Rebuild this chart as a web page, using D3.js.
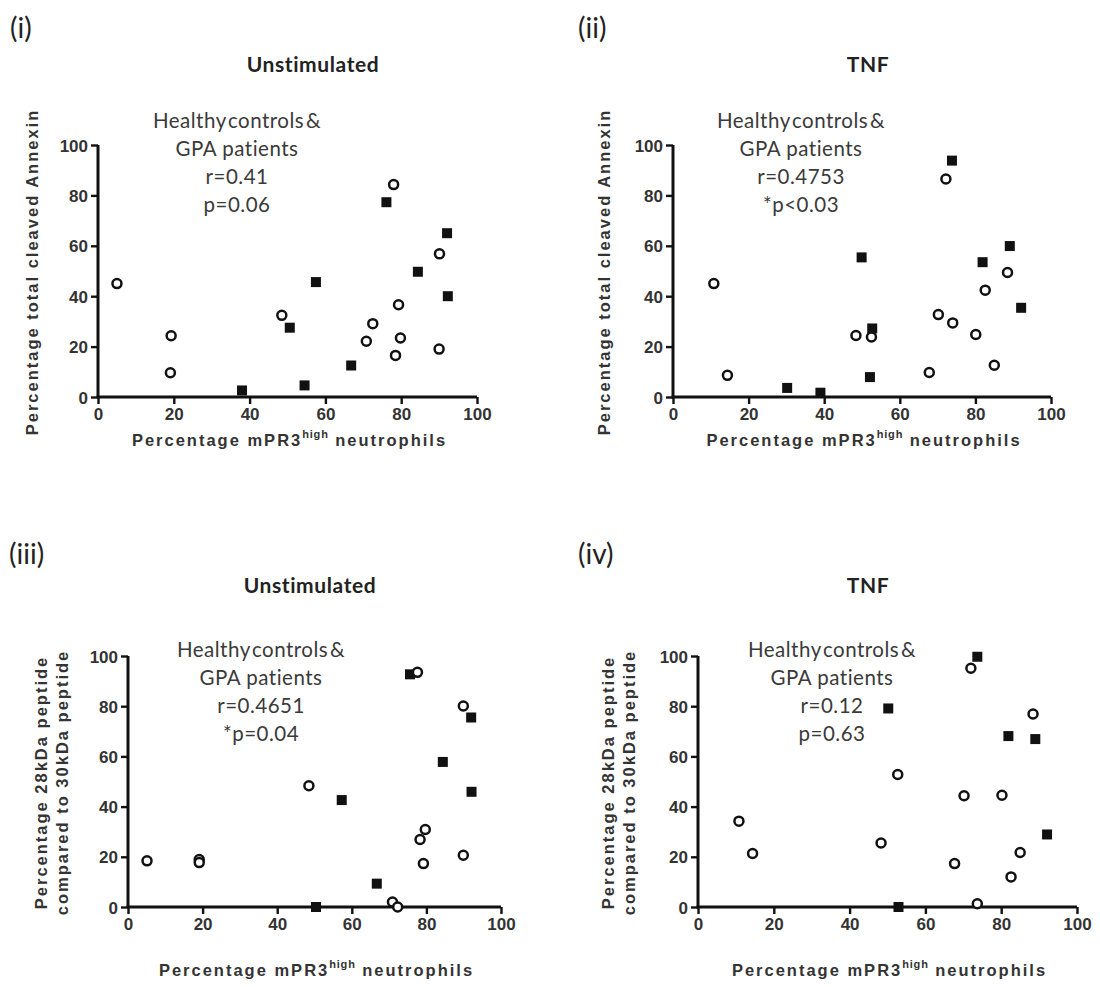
<!DOCTYPE html>
<html>
<head>
<meta charset="utf-8">
<script src="https://cdn.jsdelivr.net/npm/d3@7/dist/d3.min.js"></script>
<style>
  html, body { margin: 0; padding: 0; background: #fff; }
  svg { display: block; }
</style>
</head>
<body>
<script>
// ---- data -------------------------------------------------------------
const xTicks = [0, 20, 40, 60, 80, 100];
const yTicks = [0, 20, 40, 60, 80, 100];

const panelLabels = ["(i)", "(ii)", "(iii)", "(iv)"];
const conditionTitles = ["Unstimulated", "TNF", "Unstimulated", "TNF"];
const xAxisTitle = "Percentage mPR3";
const xAxisSup = "high";
const xAxisTail = " neutrophils";
const yAxisTitles = [
  ["Percentage total cleaved Annexin"],
  ["Percentage total cleaved Annexin"],
  ["Percentage 28kDa peptide", "compared to 30kDa peptide"],
  ["Percentage 28kDa peptide", "compared to 30kDa peptide"]
];
const statLines = [
  ["Healthy controls &", "GPA patients", "r=0.41", "p=0.06"],
  ["Healthy controls &", "GPA patients", "r=0.4753", "*p<0.03"],
  ["Healthy controls &", "GPA patients", "r=0.4651", "*p=0.04"],
  ["Healthy controls &", "GPA patients", "r=0.12", "p=0.63"]
];

// open circles, [mPR3high %, response %]
const openPoints = [
  [[5, 45], [19.3, 24.3], [19.1, 9.6], [48.5, 32.4], [78, 84.3], [90.1, 56.8],
   [79.3, 36.6], [72.5, 29.1], [70.8, 22.1], [79.8, 23.4], [78.5, 16.5], [90, 19]],
  [[10.8, 45], [14.4, 8.6], [48.4, 24.4], [52.5, 23.8], [72.2, 86.5], [70.2, 32.7],
   [74, 29.4], [67.8, 9.7], [80.1, 24.8], [82.6, 42.4], [88.5, 49.4], [85, 12.6]],
  [[5.1, 18.4], [19.1, 18.9], [19.1, 17.7], [48.5, 48.3], [77.6, 93.5], [89.9, 80.1],
   [89.9, 20.6], [78.3, 26.9], [79.7, 30.9], [79.2, 17.3], [70.9, 2], [72.3, 0]],
  [[10.8, 34.2], [14.4, 21.3], [48.3, 25.5], [52.7, 52.8], [72, 95.1], [70.2, 44.3],
   [67.7, 17.3], [73.7, 1.3], [80.2, 44.5], [82.6, 12], [85, 21.7], [88.4, 76.9]]
];

// filled squares, [mPR3high %, response %]
const filledPoints = [
  [[38, 2.6], [50.6, 27.5], [54.5, 4.6], [57.5, 45.6], [66.8, 12.5], [76.1, 77.3],
   [84.4, 49.7], [92.1, 65], [92.3, 40]],
  [[30.2, 3.6], [39, 1.7], [49.9, 55.4], [52.7, 27.2], [52.1, 7.9], [73.8, 93.8],
   [81.9, 53.5], [89.1, 59.9], [92.1, 35.4]],
  [[50.4, 0], [57.3, 42.6], [66.7, 9.3], [75.6, 92.7], [84.4, 57.8], [92, 75.5],
   [92.1, 45.9]],
  [[50.2, 79.1], [52.9, 0], [73.7, 99.7], [81.9, 68.1], [89, 66.9], [92.1, 28.9]]
];

// ---- layout -------------------------------------------------------------
const W = 1100, H = 987;
const frames = [
  { left: 98,  right: 477,  top: 145, bottom: 397, labelX: 10,  labelY: 38,  titleX: 313, titleY: 72,
    statX: 237, statY: 128, yTitleX: [38], xTitleY: 446 },
  { left: 673, right: 1051, top: 145, bottom: 397, labelX: 578, labelY: 38,  titleX: 868, titleY: 72,
    statX: 801, statY: 128, yTitleX: [610], xTitleY: 446 },
  { left: 128, right: 501,  top: 656, bottom: 907, labelX: 9,   labelY: 564, titleX: 310, titleY: 593,
    statX: 261, statY: 657, yTitleX: [47, 68], xTitleY: 976 },
  { left: 698, right: 1077, top: 656, bottom: 907, labelX: 578, labelY: 564, titleX: 868, titleY: 593,
    statX: 832, statY: 657, yTitleX: [614, 635], xTitleY: 976 }
];

const svg = d3.select("body").append("svg")
  .attr("width", W).attr("height", H)
  .attr("viewBox", `0 0 ${W} ${H}`);

svg.append("rect").attr("width", W).attr("height", H).attr("fill", "#fff");

const ink = "#111";
const textGrey = "#333";
const axisFont = "Arial, 'Liberation Sans', sans-serif";
const proseFont = "Lato, 'Open Sans', sans-serif";

frames.forEach((f, i) => {
  const g = svg.append("g");
  const x = d3.scaleLinear().domain([0, 100]).range([f.left, f.right]);
  const y = d3.scaleLinear().domain([0, 100]).range([f.bottom, f.top]);

  // panel label and condition title
  g.append("text")
    .attr("x", f.labelX).attr("y", f.labelY)
    .attr("font-family", proseFont).attr("font-size", 28)
    .attr("fill", "#222")
    .text(panelLabels[i]);

  g.append("text")
    .attr("x", f.titleX).attr("y", f.titleY)
    .attr("text-anchor", "middle")
    .attr("font-family", proseFont).attr("font-weight", 700).attr("font-size", 21)
    .attr("letter-spacing", 0.6)
    .attr("fill", "#222")
    .text(conditionTitles[i]);

  // axes
  const xAxis = d3.axisBottom(x).tickValues(xTicks).tickSize(7).tickSizeOuter(0).tickPadding(4);
  const yAxis = d3.axisLeft(y).tickValues(yTicks).tickSize(7).tickSizeOuter(0).tickPadding(3);

  const gx = g.append("g").attr("transform", `translate(0,${f.bottom})`).call(xAxis);
  const gy = g.append("g").attr("transform", `translate(${f.left},0)`).call(yAxis);

  [gx, gy].forEach(a => {
    a.select(".domain").attr("stroke", ink).attr("stroke-width", 3);
    a.selectAll(".tick line").attr("stroke", ink).attr("stroke-width", 2.4);
    a.selectAll(".tick text")
      .attr("font-family", axisFont).attr("font-weight", 700).attr("font-size", 17)
      .attr("fill", textGrey);
  });
  // extend the x-axis line across the y-axis stroke
  gx.select(".domain").attr("d", `M${f.left - 1.5},0H${f.right}`);
  gy.select(".domain").attr("d", `M0,${f.bottom}V${f.top}`);
  gy.selectAll(".tick text").attr("dy", "0.36em");

  // x-axis title with superscript
  const xt = g.append("text")
    .attr("x", (f.left + f.right) / 2 + 2).attr("y", f.xTitleY)
    .attr("text-anchor", "middle")
    .attr("font-family", axisFont).attr("font-weight", 700).attr("font-size", 16.5)
    .attr("letter-spacing", 2)
    .attr("fill", textGrey);
  xt.append("tspan").text(xAxisTitle);
  xt.append("tspan").attr("dy", -8).attr("font-size", 11).attr("letter-spacing", 0.8).text(xAxisSup);
  xt.append("tspan").attr("dy", 8).text(xAxisTail);

  // y-axis title (one or two lines)
  const yMid = (f.top + f.bottom) / 2 + 1;
  yAxisTitles[i].forEach((line, k) => {
    g.append("text")
      .attr("transform", `translate(${f.yTitleX[k]},${yMid}) rotate(-90)`)
      .attr("text-anchor", "middle")
      .attr("font-family", axisFont).attr("font-weight", 700).attr("font-size", 16.5)
      .attr("letter-spacing", 2)
      .attr("fill", textGrey)
      .text(line);
  });

  // correlation annotation
  statLines[i].forEach((line, k) => {
    g.append("text")
      .attr("x", f.statX).attr("y", f.statY + k * 28)
      .attr("text-anchor", "middle")
      .attr("font-family", proseFont).attr("font-size", 20.5)
      .attr("letter-spacing", 0.5)
      .attr("word-spacing", k === 0 ? -4 : 0)
      .attr("fill", "#3a3a3a")
      .text(line);
  });

  // filled squares first, open circles drawn over them
  const side = 10;
  g.append("g").selectAll("rect")
    .data(filledPoints[i])
    .join("rect")
    .attr("x", d => x(d[0]) - side / 2)
    .attr("y", d => y(d[1]) - side / 2)
    .attr("width", side).attr("height", side)
    .attr("fill", ink);

  g.append("g").selectAll("circle")
    .data(openPoints[i])
    .join("circle")
    .attr("cx", d => x(d[0]))
    .attr("cy", d => y(d[1]))
    .attr("r", 4.5)
    .attr("fill", "#fff")
    .attr("stroke", ink)
    .attr("stroke-width", 2.5);
});
</script>
</body>
</html>
